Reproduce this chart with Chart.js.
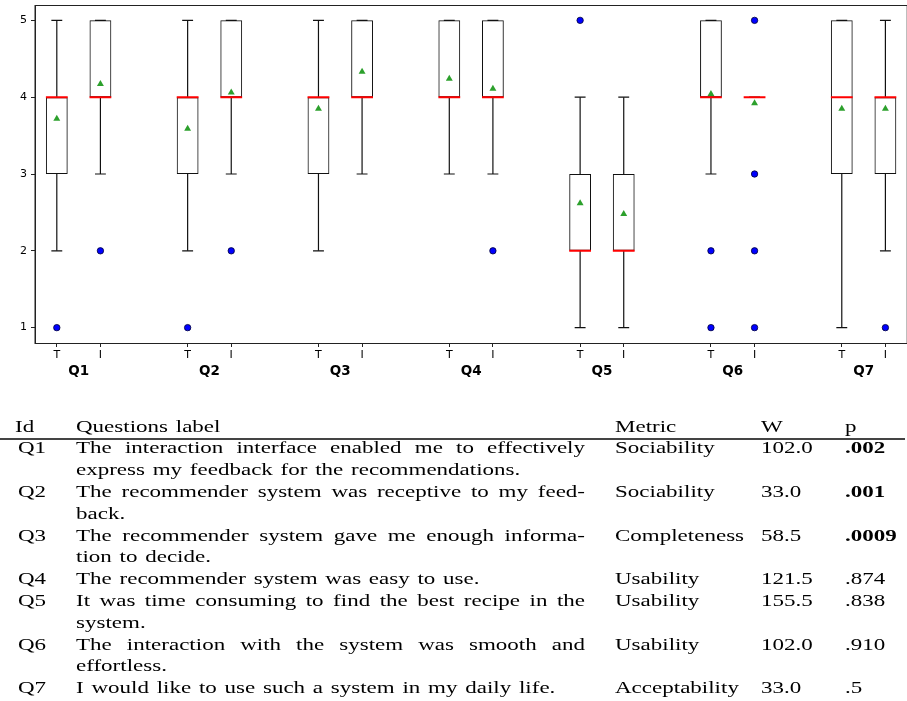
<!DOCTYPE html>
<html>
<head>
<meta charset="utf-8">
<script src="https://cdn.jsdelivr.net/npm/chart.js@4.4.0/dist/chart.umd.min.js"></script>
<style>
  html, body { margin: 0; padding: 0; background: #fff; }
  body { width: 907px; height: 701px; overflow: hidden; position: relative; }
  #wrap { position: absolute; left: 0; top: 0; width: 912px; height: 385px; }
  .tbl { position: absolute; left: 0; top: 0; width: 907px; height: 701px;
         font-family: "Liberation Serif", "Times New Roman", serif; font-size: 23px; color: #000; }
  .ln { position: absolute; height: 21.8px; line-height: 21.8px; white-space: nowrap;
        word-spacing: 2px; transform: scaleY(0.77); transform-origin: 0 18.7px; }
  .just { width: 509px; white-space: normal; text-align: justify; text-align-last: justify; }
  .rule { position: absolute; left: 0; top: 438px; width: 905px; height: 2px; background: #444; }
  b { font-weight: bold; }
</style>
</head>
<body>
<div id="wrap"><canvas id="boxChart" width="912" height="385"></canvas></div>

<div class="tbl">
  <div class="ln" style="left:15px; top:414.3px">Id</div>
  <div class="ln" style="left:76px; top:414.3px">Questions label</div>
  <div class="ln" style="left:615px; top:414.3px">Metric</div>
  <div class="ln" style="left:761px; top:414.3px">W</div>
  <div class="ln" style="left:845px; top:414.3px">p</div>
  <div class="rule"></div>

  <div class="ln" style="left:18px; top:435.3px">Q1</div>
  <div class="ln just" style="left:76px; top:435.3px">The interaction interface enabled me to effectively</div>
  <div class="ln" style="left:76px; top:457.1px">express my feedback for the recommendations.</div>
  <div class="ln" style="left:615px; top:435.3px">Sociability</div>
  <div class="ln" style="left:761px; top:435.3px">102.0</div>
  <div class="ln" style="left:845px; top:435.3px"><b>.002</b></div>

  <div class="ln" style="left:18px; top:478.9px">Q2</div>
  <div class="ln just" style="left:76px; top:478.9px">The recommender system was receptive to my feed-</div>
  <div class="ln" style="left:76px; top:500.7px">back.</div>
  <div class="ln" style="left:615px; top:478.9px">Sociability</div>
  <div class="ln" style="left:761px; top:478.9px">33.0</div>
  <div class="ln" style="left:845px; top:478.9px"><b>.001</b></div>

  <div class="ln" style="left:18px; top:522.5px">Q3</div>
  <div class="ln just" style="left:76px; top:522.5px">The recommender system gave me enough informa-</div>
  <div class="ln" style="left:76px; top:544.3px">tion to decide.</div>
  <div class="ln" style="left:615px; top:522.5px">Completeness</div>
  <div class="ln" style="left:761px; top:522.5px">58.5</div>
  <div class="ln" style="left:845px; top:522.5px"><b>.0009</b></div>

  <div class="ln" style="left:18px; top:566.1px">Q4</div>
  <div class="ln" style="left:76px; top:566.1px">The recommender system was easy to use.</div>
  <div class="ln" style="left:615px; top:566.1px">Usability</div>
  <div class="ln" style="left:761px; top:566.1px">121.5</div>
  <div class="ln" style="left:845px; top:566.1px">.874</div>

  <div class="ln" style="left:18px; top:587.9px">Q5</div>
  <div class="ln just" style="left:76px; top:587.9px">It was time consuming to find the best recipe in the</div>
  <div class="ln" style="left:76px; top:609.7px">system.</div>
  <div class="ln" style="left:615px; top:587.9px">Usability</div>
  <div class="ln" style="left:761px; top:587.9px">155.5</div>
  <div class="ln" style="left:845px; top:587.9px">.838</div>

  <div class="ln" style="left:18px; top:631.5px">Q6</div>
  <div class="ln just" style="left:76px; top:631.5px">The interaction with the system was smooth and</div>
  <div class="ln" style="left:76px; top:653.3px">effortless.</div>
  <div class="ln" style="left:615px; top:631.5px">Usability</div>
  <div class="ln" style="left:761px; top:631.5px">102.0</div>
  <div class="ln" style="left:845px; top:631.5px">.910</div>

  <div class="ln" style="left:18px; top:675.1px">Q7</div>
  <div class="ln" style="left:76px; top:675.1px">I would like to use such a system in my daily life.</div>
  <div class="ln" style="left:615px; top:675.1px">Acceptability</div>
  <div class="ln" style="left:761px; top:675.1px">33.0</div>
  <div class="ln" style="left:845px; top:675.1px">.5</div>
</div>

<script>
// questions and the two conditions (T / I) shown under each box
const qIds = ['Q1', 'Q2', 'Q3', 'Q4', 'Q5', 'Q6', 'Q7'];
const groupLabels = ['T', 'I'];
// box order: Q1-T, Q1-I, Q2-T, Q2-I, ...
const boxPos      = [1, 2, 4, 5, 7, 8, 10, 11, 13, 14, 16, 17, 19, 20];
const whiskerLow  = [2, 3, 2, 3, 2, 3, 3, 3, 1, 1, 3, 4, 1, 2];
const q1          = [3, 4, 3, 4, 3, 4, 4, 4, 2, 2, 4, 4, 3, 3];
const medians     = [4, 4, 4, 4, 4, 4, 4, 4, 2, 2, 4, 4, 4, 4];
const q3          = [4, 5, 4, 5, 4, 5, 5, 5, 3, 3, 5, 4, 5, 4];
const whiskerHigh = [5, 5, 5, 5, 5, 5, 5, 5, 4, 4, 5, 4, 5, 5];
const means       = [3.72, 4.17, 3.59, 4.06, 3.85, 4.33, 4.24, 4.11, 2.62, 2.48, 4.04, 3.92, 3.85, 3.85];
const outliers    = [[1], [2], [1], [2], [], [], [], [2], [5], [], [2, 1], [5, 3, 2, 1], [], [1]];
const yTicks = [1, 2, 3, 4, 5];

const BOX_HALF = 0.25;   // half box width, x units
const CAP_HALF = 0.125;  // half whisker cap width

const qCenters = qIds.map((q, i) => (boxPos[2 * i] + boxPos[2 * i + 1]) / 2);

const gap = x => ({ x: x, y: null });

const whiskerPts = [];
const capPts = [];
const medianPts = [];
boxPos.forEach((x, i) => {
  whiskerPts.push({ x: x, y: whiskerLow[i] }, { x: x, y: q1[i] }, gap(x),
                  { x: x, y: q3[i] }, { x: x, y: whiskerHigh[i] }, gap(x));
  capPts.push({ x: x - CAP_HALF, y: whiskerLow[i] }, { x: x + CAP_HALF, y: whiskerLow[i] }, gap(x),
              { x: x - CAP_HALF, y: whiskerHigh[i] }, { x: x + CAP_HALF, y: whiskerHigh[i] }, gap(x));
  medianPts.push({ x: x - BOX_HALF, y: medians[i] }, { x: x + BOX_HALF, y: medians[i] }, gap(x));
});
const outlierPts = boxPos.flatMap((x, i) => outliers[i].map(v => ({ x: x, y: v })));

const FONT = 'DejaVu Sans';

// matplotlib style frame round the plot area
const frame = {
  id: 'frame',
  afterDraw(chart) {
    const a = chart.chartArea, ctx = chart.ctx;
    ctx.save();
    ctx.strokeStyle = '#222';
    ctx.lineWidth = 1;
    ctx.strokeRect(a.left, a.top + 0.5, a.right - a.left, a.bottom - a.top);
    ctx.restore();
  }
};

// no label overhang padding, so the plot area sits where the axes say
const noPad = axis => {
  axis.paddingTop = 0; axis.paddingBottom = 0;
  axis.paddingLeft = 0; axis.paddingRight = 0;
};

new Chart(document.getElementById('boxChart').getContext('2d'), {
  type: 'bar',
  data: {
    datasets: [
      {
        type: 'bar',
        data: boxPos.map((x, i) => ({ x: x, y: [q1[i], q3[i]] })),
        backgroundColor: 'rgba(0,0,0,0)',
        borderColor: '#111',
        borderWidth: 1,
        borderSkipped: false,
        barPercentage: 0.5,
        categoryPercentage: 1,
        order: 5
      },
      {
        type: 'scatter', showLine: true, data: whiskerPts,
        borderColor: '#111', borderWidth: 1.2, pointRadius: 0, spanGaps: false, order: 4
      },
      {
        type: 'scatter', showLine: true, data: capPts,
        borderColor: '#111', borderWidth: 1.2, pointRadius: 0, spanGaps: false, order: 4
      },
      {
        type: 'scatter', showLine: true, data: medianPts,
        borderColor: '#ff0000', borderWidth: 2, pointRadius: 0, spanGaps: false, order: 2
      },
      {
        type: 'scatter',
        data: boxPos.map((x, i) => ({ x: x, y: means[i] })),
        pointStyle: 'triangle', pointRadius: 4,
        backgroundColor: '#2ca02c', borderColor: '#2ca02c', borderWidth: 0,
        order: 1
      },
      {
        type: 'scatter', data: outlierPts,
        pointStyle: 'circle', pointRadius: 3.2,
        backgroundColor: '#0000ff', borderColor: '#000033', borderWidth: 0.8,
        order: 0
      }
    ]
  },
  options: {
    responsive: false,
    animation: false,
    events: [],
    layout: { padding: { top: 5, right: 1, left: 0, bottom: 0 } },
    plugins: { legend: { display: false }, tooltip: { enabled: false } },
    scales: {
      x: {
        type: 'linear', position: 'bottom', min: 0.5, max: 20.5, offset: false, weight: 0,
        border: { display: true, color: '#222', width: 1 },
        grid: { display: true, drawOnChartArea: false, drawTicks: true, tickLength: 4, color: '#222', offset: false },
        ticks: {
          autoSkip: false, maxRotation: 0, padding: 2, color: '#000',
          font: { family: FONT, size: 11 },
          callback: (v, i) => groupLabels[i % 2]
        },
        afterBuildTicks: axis => { axis.ticks = boxPos.map(v => ({ value: v })); },
        afterFit: axis => { axis.height = 18; noPad(axis); }
      },
      xq: {
        type: 'linear', position: 'bottom', min: 0.5, max: 20.5, offset: false, weight: 1,
        border: { display: false },
        grid: { display: false },
        ticks: {
          autoSkip: false, maxRotation: 0, padding: -6, color: '#000',
          font: { family: FONT, size: 13.5, weight: 'bold' },
          callback: (v, i) => qIds[i]
        },
        afterBuildTicks: axis => { axis.ticks = qCenters.map(v => ({ value: v })); },
        afterFit: axis => { axis.height = 24; noPad(axis); }
      },
      y: {
        type: 'linear', min: 0.8, max: 5.2,
        border: { display: true, color: '#222', width: 1 },
        grid: { display: true, drawOnChartArea: false, drawTicks: true, tickLength: 4, color: '#222' },
        ticks: {
          padding: 4, color: '#000',
          font: { family: FONT, size: 11 },
          callback: v => String(v)
        },
        afterBuildTicks: axis => { axis.ticks = yTicks.map(v => ({ value: v })); },
        afterFit: axis => { axis.width = 35; noPad(axis); }
      }
    }
  },
  plugins: [frame]
});
</script>
</body>
</html>
